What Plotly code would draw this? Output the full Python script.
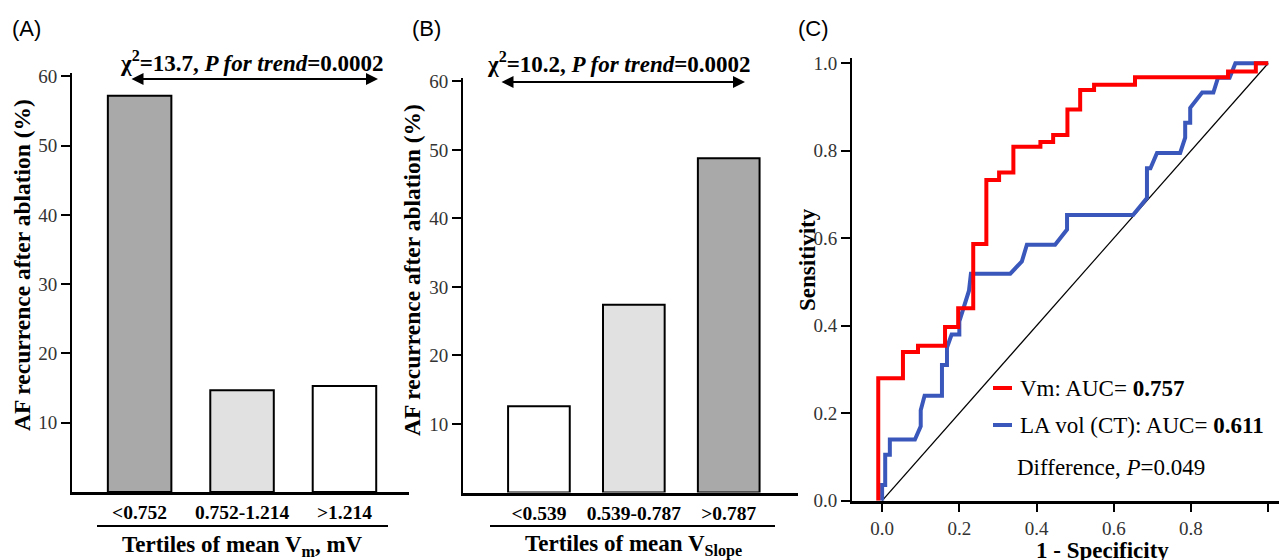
import plotly.graph_objects as go

W, H = 1279, 560
SERIF = "Liberation Serif, Times New Roman, serif"
SANS = "Liberation Sans, Arial, sans-serif"

# ---- Data ----
a_categories = ["<0.752", "0.752-1.214", ">1.214"]
a_values = [57.2, 14.7, 15.3]
a_colors = ["#a9a9a9", "#e1e1e1", "#ffffff"]

b_categories = ["<0.539", "0.539-0.787", ">0.787"]
b_values = [12.6, 27.4, 48.8]
b_colors = ["#ffffff", "#e1e1e1", "#a9a9a9"]

bar_ticks = [10, 20, 30, 40, 50, 60]

vm_fpr = [-0.01, -0.01, 0.054, 0.054, 0.093, 0.093, 0.163, 0.163, 0.197, 0.197,
          0.236, 0.236, 0.27, 0.27, 0.303, 0.303, 0.34, 0.34, 0.41, 0.41,
          0.443, 0.443, 0.48, 0.48, 0.513, 0.513, 0.549, 0.549, 0.655, 0.655,
          0.896, 0.896, 0.968, 0.968, 1.0]
vm_tpr = [0.0, 0.28, 0.28, 0.34, 0.34, 0.354, 0.354, 0.397, 0.397, 0.44,
          0.44, 0.587, 0.587, 0.733, 0.733, 0.75, 0.75, 0.809, 0.809, 0.82,
          0.82, 0.836, 0.836, 0.894, 0.894, 0.939, 0.939, 0.951, 0.951, 0.968,
          0.968, 0.981, 0.981, 1.0, 1.0]

la_fpr = [0.0, 0.0, 0.008, 0.008, 0.02, 0.02, 0.085, 0.1, 0.1, 0.11,
          0.155, 0.155, 0.168, 0.168, 0.18, 0.2, 0.2, 0.21, 0.225, 0.23,
          0.332, 0.362, 0.375, 0.448, 0.479, 0.479, 0.65, 0.686, 0.686, 0.695,
          0.712, 0.772, 0.785, 0.785, 0.798, 0.798, 0.829, 0.858, 0.87, 0.9,
          0.915, 1.0]
la_tpr = [0.0, 0.036, 0.036, 0.105, 0.105, 0.14, 0.14, 0.17, 0.207, 0.24,
          0.24, 0.31, 0.31, 0.35, 0.38, 0.38, 0.41, 0.44, 0.48, 0.519,
          0.519, 0.547, 0.585, 0.585, 0.62, 0.653, 0.653, 0.692, 0.76, 0.76,
          0.795, 0.795, 0.83, 0.864, 0.864, 0.898, 0.933, 0.933, 0.967, 0.967,
          1.0, 1.0]

roc_ticks = [0.0, 0.2, 0.4, 0.6, 0.8, 1.0]
diag = [0.0, 1.0]

RED = "#ff0000"
BLUE = "#3a57bb"


def px(x):
    return x / W


def py(y):
    return 1 - y / H


fig = go.Figure()

fig.add_trace(go.Bar(x=a_categories, y=a_values, width=0.62,
                     marker=dict(color=a_colors, line=dict(color="black", width=2)),
                     xaxis="x", yaxis="y", showlegend=False))
fig.add_trace(go.Bar(x=b_categories, y=b_values, width=0.65,
                     marker=dict(color=b_colors, line=dict(color="black", width=2)),
                     xaxis="x2", yaxis="y2", showlegend=False))

fig.add_trace(go.Scatter(x=diag, y=diag, mode="lines",
                         line=dict(color="black", width=1.2),
                         xaxis="x3", yaxis="y3", showlegend=False))
fig.add_trace(go.Scatter(x=la_fpr, y=la_tpr, mode="lines",
                         line=dict(color=BLUE, width=4),
                         xaxis="x3", yaxis="y3", showlegend=False))
fig.add_trace(go.Scatter(x=vm_fpr, y=vm_tpr, mode="lines",
                         line=dict(color=RED, width=4),
                         xaxis="x3", yaxis="y3", showlegend=False))

cat_axis = dict(showline=True, linewidth=2.5, linecolor="black", showgrid=False,
                zeroline=False, ticks="outside", ticklen=1, tickcolor="rgba(0,0,0,0)",
                automargin=False,
                tickfont=dict(family=SERIF, size=19.5, color="black", weight="bold"))
val_axis = dict(showline=True, linewidth=2, linecolor="black", showgrid=False,
                zeroline=False, ticks="outside", ticklen=9, tickwidth=2,
                tickcolor="black", tickvals=bar_ticks, range=[0, 60.5],
                automargin=False,
                tickfont=dict(family=SERIF, size=19, color="#333"))

fig.update_layout(
    width=W, height=H,
    margin=dict(l=0, r=0, t=0, b=0, autoexpand=False),
    paper_bgcolor="white", plot_bgcolor="white",
    bargap=0.3,
    xaxis=dict(cat_axis, domain=[px(72), px(409)], range=[-0.66, 2.63], anchor="y"),
    yaxis=dict(val_axis, domain=[py(492), py(73)], anchor="x"),
    xaxis2=dict(cat_axis, domain=[px(463), px(798)], range=[-0.8, 2.73], anchor="y2"),
    yaxis2=dict(val_axis, domain=[py(492.5), py(78)], anchor="x2"),
    xaxis3=dict(showline=True, linewidth=2.5, linecolor="black", showgrid=False,
                zeroline=False, ticks="outside", ticklen=9, tickwidth=2, tickcolor="black",
                tickvals=roc_ticks, tickformat=".1f", range=[-0.078, 1.028],
                domain=[px(852), 1.0], anchor="y3", automargin=False,
                tickfont=dict(family=SERIF, size=19, color="#333")),
    yaxis3=dict(showline=True, linewidth=2, linecolor="black", showgrid=False,
                zeroline=False, ticks="outside", ticklen=9, tickwidth=2, tickcolor="black",
                tickvals=roc_ticks, tickformat=".1f", range=[0, 1.012],
                domain=[py(500.7), py(58)], anchor="x3", automargin=False,
                tickfont=dict(family=SERIF, size=19, color="#333")),
)

ann = []


def text(x, y, t, size=18, family=SERIF, color="black", angle=0, xanchor="center"):
    ann.append(dict(x=px(x), y=py(y), xref="paper", yref="paper", text=t,
                    showarrow=False, textangle=angle, xanchor=xanchor, yanchor="middle",
                    font=dict(family=family, size=size, color=color)))


def arrow(x0, x1, y):
    ann.append(dict(x=px(x1), y=py(y), xref="paper", yref="paper",
                    ax=x0 - x1, ay=0, axref="pixel", ayref="pixel", text="",
                    showarrow=True, arrowside="end+start", arrowhead=2,
                    arrowsize=1.2, arrowwidth=2, arrowcolor="black"))


# panel letters
text(26, 28, "(A)", 22, SANS)
text(426, 28, "(B)", 22, SANS)
text(813, 28, "(C)", 22, SANS)

# panel A
text(252, 61, "<b>χ<sup>2</sup>=13.7, <i>P for trend</i>=0.0002</b>", 23)
arrow(130, 378, 79)
text(242, 546, "<b>Tertiles of mean V<sub>m</sub>, mV</b>", 23)
text(22, 265, "<b>AF recurrence after ablation (%)</b>", 23.5, angle=-90)

# panel B
text(619, 62, "<b>χ<sup>2</sup>=10.2, <i>P for trend</i>=0.0002</b>", 23)
arrow(500, 745, 82)
text(633, 545, "<b>Tertiles of mean V<sub>Slope</sub></b>", 23)
text(412, 270, "<b>AF recurrence after ablation (%)</b>", 23.5, angle=-90)

# panel C
text(807, 260, "<b>Sensitivity</b>", 23, angle=-90)
text(1102, 550, "<b>1 - Specificity</b>", 23)
text(1018, 388, "Vm: AUC= <b>0.757</b>", 23, xanchor="left")
text(1018, 425, "LA vol (CT): AUC= <b>0.611</b>", 23, xanchor="left")
text(1015, 467, "Difference, <i>P</i>=0.049", 23, xanchor="left")

fig.update_layout(annotations=ann)

shapes = [
    dict(type="line", xref="paper", yref="paper", x0=px(97), x1=px(388),
         y0=py(526), y1=py(526), line=dict(color="black", width=2)),
    dict(type="line", xref="paper", yref="paper", x0=px(490), x1=px(775),
         y0=py(526), y1=py(526), line=dict(color="black", width=2)),
    dict(type="line", xref="paper", yref="paper", x0=px(993), x1=px(1012),
         y0=py(388), y1=py(388), line=dict(color=RED, width=4)),
    dict(type="line", xref="paper", yref="paper", x0=px(993), x1=px(1012),
         y0=py(425), y1=py(425), line=dict(color=BLUE, width=4)),
]
fig.update_layout(shapes=shapes)

fig.write_html("out.html", config={"displayModeBar": False},
               post_script="document.body.style.margin='0';document.body.style.overflow='hidden';")
